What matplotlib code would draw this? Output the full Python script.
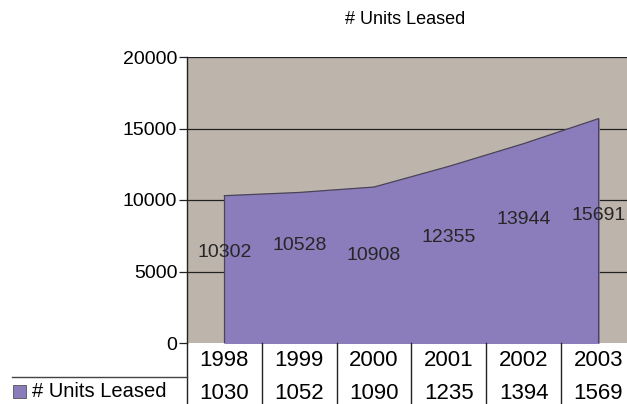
import matplotlib
matplotlib.use("Agg")
import matplotlib.pyplot as plt
from matplotlib.patches import Rectangle
from matplotlib.lines import Line2D

years = ["1998", "1999", "2000", "2001", "2002", "2003"]
units = [10302, 10528, 10908, 12355, 13944, 15691]
series_name = "# Units Leased"
yticks = [0, 5000, 10000, 15000, 20000]
label_y = [6300, 6850, 6150, 7400, 8650, 8950]

W, H = 627, 404
fig = plt.figure(figsize=(W / 100, H / 100), dpi=100)
fig.patch.set_facecolor("white")

px = lambda x: x / W
py = lambda y: 1 - y / H

FS = 14
TFS = 16
left, right, top, bot = 187, 636, 57, 343
ax = fig.add_axes([px(left), py(bot), px(right) - px(left), py(top) - py(bot)])
ax.set_facecolor("#BDB5AC")
ax.set_xlim(-0.5, len(years) - 0.5)
ax.set_ylim(0, 20000)
x = list(range(len(years)))
for v in yticks[1:]:
    ax.axhline(v, color="#222222", lw=0.9, zorder=1)
ax.fill_between(x, 0, units, color="#8B7DBB", zorder=2)
ax.plot(x + [x[-1]], units + [0], color="#4a4458", lw=0.9, zorder=3)
ax.plot([x[0], x[0]], [0, units[0]], color="#4a4458", lw=0.9, zorder=3)
for i, v in enumerate(units):
    ax.text(i, label_y[i], str(v), ha="center", va="center", fontsize=FS,
            color="#262626", zorder=4, family="Liberation Sans")
ax.set_yticks(yticks)
ax.set_yticklabels([str(v) for v in yticks], fontsize=FS, family="Liberation Sans")
ax.set_xticks([])
ax.tick_params(axis="y", length=6, width=0.9, color="#222222", pad=1)
for s in ["top", "right", "bottom"]:
    ax.spines[s].set_visible(False)
ax.spines["left"].set_linewidth(1.0)
ax.spines["left"].set_color("#222222")

fig.text(px(405), py(20), series_name, ha="center", va="center", fontsize=13,
         family="Liberation Sans")

# data table
colw = 74.8
x0 = 187
fig.add_artist(Line2D([px(x0), px(x0)], [py(343), py(404)], color="#222222", lw=1.0))
for i in range(1, len(years)):
    xx = x0 + i * colw
    fig.add_artist(Line2D([px(xx), px(xx)], [py(343), py(404)], color="#222222", lw=1.0))
fig.add_artist(Line2D([px(12), px(x0)], [py(376.5), py(376.5)], color="#444444", lw=1.0))
for i, yr in enumerate(years):
    cx = x0 + (i + 0.5) * colw
    fig.text(px(cx), py(360.5), yr, ha="center", va="center", fontsize=TFS,
             family="Liberation Sans")
    fig.text(px(cx), py(393.5), str(units[i])[:4], ha="center", va="center",
             fontsize=TFS, family="Liberation Sans")

fig.add_artist(Rectangle((px(12.5), py(398)), px(13), px(13) * W / H,
                         facecolor="#8B7DBB", edgecolor="#555555", lw=0.6))
fig.text(px(32), py(391.5), series_name, ha="left", va="center", fontsize=14.5,
         family="Liberation Sans")

fig.savefig("out.png", dpi=100)
